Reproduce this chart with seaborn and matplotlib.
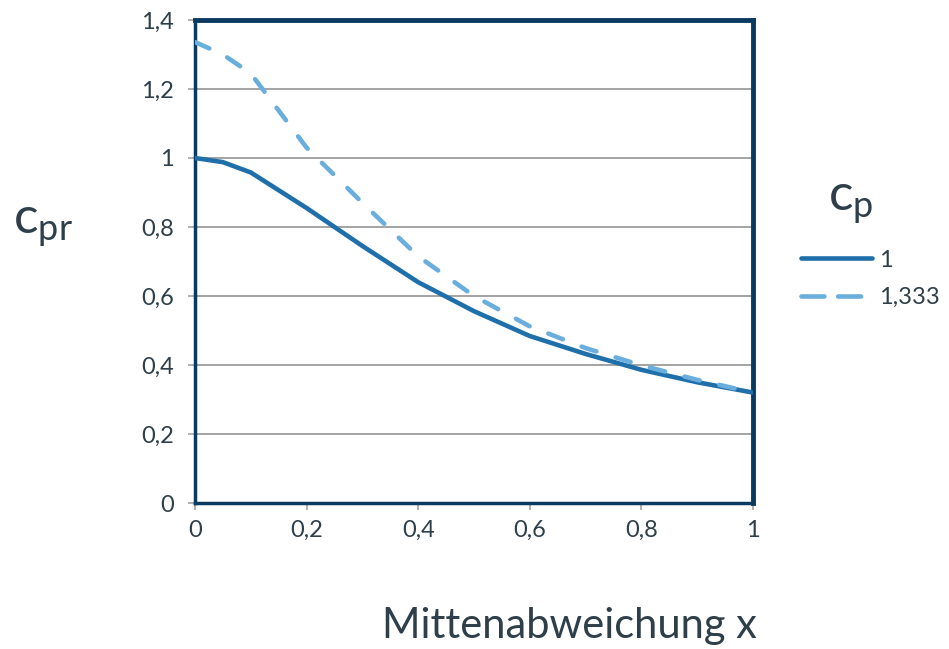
import numpy as np
import pandas as pd
import matplotlib
matplotlib.use("Agg")
import matplotlib.pyplot as plt
import seaborn as sns
from matplotlib.lines import Line2D

# Data
x_vals = [0.0, 0.05, 0.1, 0.2, 0.3, 0.4, 0.5, 0.6, 0.7, 0.8, 0.9, 1.0]
cpr_cp1 = [1.0, 0.988, 0.958, 0.855, 0.745, 0.64, 0.556, 0.484, 0.432, 0.386, 0.35, 0.32]
cpr_cp1333 = [1.336, 1.30, 1.245, 1.03, 0.87, 0.715, 0.60, 0.512, 0.449, 0.399, 0.357, 0.32]
series_labels = ["1", "1,333"]
x_ticks = [0, 0.2, 0.4, 0.6, 0.8, 1.0]
x_ticklabels = ["0", "0,2", "0,4", "0,6", "0,8", "1"]
y_ticks = [0, 0.2, 0.4, 0.6, 0.8, 1.0, 1.2, 1.4]
y_ticklabels = ["0", "0,2", "0,4", "0,6", "0,8", "1", "1,2", "1,4"]

df = pd.DataFrame({
    "x": x_vals * 2,
    "cpr": cpr_cp1 + cpr_cp1333,
    "cp": [series_labels[0]] * len(x_vals) + [series_labels[1]] * len(x_vals),
})

sns.set_style("white")
plt.rcParams["font.family"] = ["Lato", "DejaVu Sans"]
plt.rcParams["mathtext.default"] = "regular"

text_col = "#2e3f4a"
frame_col = "#0b3a60"
palette = {"1": "#1f6faa", "1,333": "#6aaede"}
lw = 3.3
dash_pat = (3.4, 4.4)

fig = plt.figure(figsize=(9.49, 6.49), dpi=100)
ax = fig.add_axes([195 / 949, 1 - 503 / 649, (753 - 195) / 949, (503 - 20) / 649])

sns.lineplot(data=df, x="x", y="cpr", hue="cp", style="cp", palette=palette,
             dashes={"1": "", "1,333": dash_pat}, linewidth=lw, ax=ax,
             legend=False, zorder=3)
for ln in ax.get_lines():
    ln.set_solid_capstyle("round")
    ln.set_dash_capstyle("round")

ax.set_xlim(0, 1)
ax.set_ylim(0, 1.4)
ax.set_xticks(x_ticks)
ax.set_xticklabels(x_ticklabels)
ax.set_yticks(y_ticks)
ax.set_yticklabels(y_ticklabels)
ax.grid(axis="y", color="#a3a3a3", linewidth=1.4)
ax.set_axisbelow(True)
ax.tick_params(axis="both", colors="#a3a3a3", labelcolor=text_col, labelsize=17,
               length=5, width=1.2, direction="out")
ax.tick_params(axis="x", pad=7)
ax.tick_params(axis="y", pad=10)
ax.tick_params(left=True, bottom=True)
ax.set_xlabel("")
ax.set_ylabel("")

for side in ["top", "right"]:
    ax.spines[side].set_color(frame_col)
    ax.spines[side].set_linewidth(3.5)
for side in ["left", "bottom"]:
    ax.spines[side].set_color(frame_col)
    ax.spines[side].set_linewidth(2.5)

# Axis titles
fig.text(13 / 949, 1 - 226 / 649, r"c$_{\mathregular{pr}}$", fontsize=37, color=text_col,
         ha="left", va="center")
fig.text(757 / 949, 1 - 626 / 649, "Mittenabweichung x", fontsize=30, color=text_col,
         ha="right", va="center")

# Legend title and entries
fig.text(828 / 949, 1 - 203 / 649, r"c$_{\mathregular{p}}$", fontsize=37, color=text_col,
         ha="left", va="center")
handles = [
    Line2D([0], [0], color=palette["1"], lw=lw, solid_capstyle="round"),
    Line2D([0], [0], color=palette["1,333"], lw=lw, linestyle=(0, (5.0, 3.0)),
           dash_capstyle="round"),
]
leg = fig.legend(handles, series_labels, loc="center left",
                 bbox_to_anchor=(801 / 949, 1 - 279 / 649),
                 frameon=False, fontsize=17, handlelength=3.0, handletextpad=0.3,
                 labelspacing=0.7, labelcolor=text_col, borderaxespad=0, borderpad=0)

fig.savefig("out.png", dpi=100)
